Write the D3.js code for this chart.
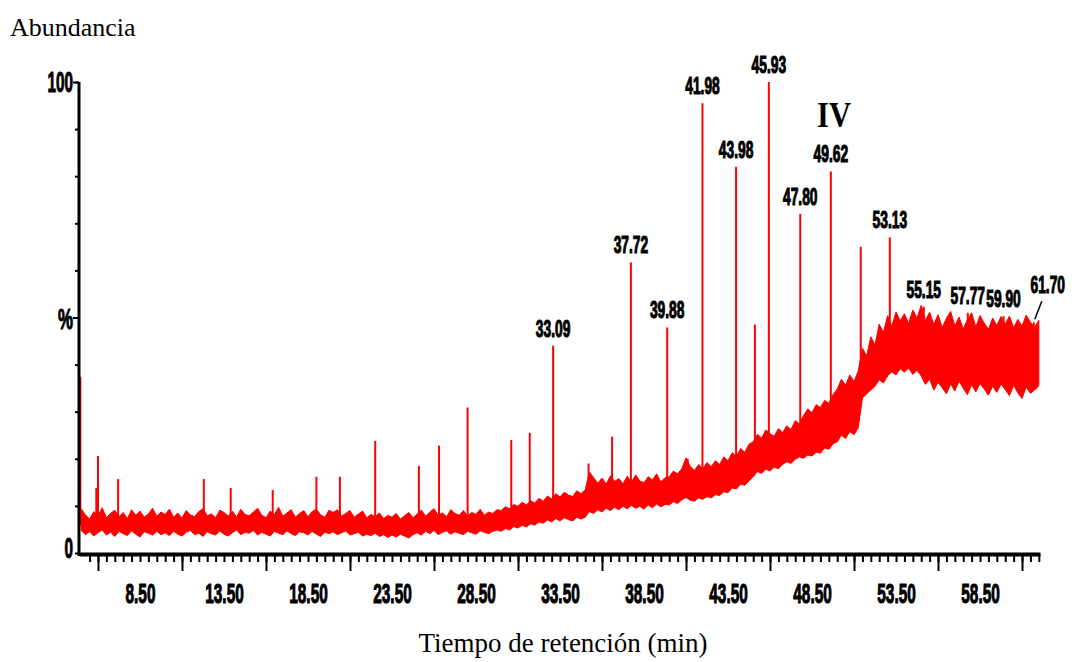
<!DOCTYPE html>
<meta charset="utf-8">
<style>
  body { margin: 0; background: #fff; }
  .num { font-family: "Liberation Sans", Arial, sans-serif; font-weight: bold; fill: #000; stroke: #000; stroke-width: 1.1px; }
  .serif { font-family: "Liberation Serif", "Times New Roman", serif; fill: #000; }
  .axis path, .axis line { stroke: #000; }
</style>
<svg width="1072" height="662"></svg>
<script src="https://cdnjs.cloudflare.com/ajax/libs/d3/7.8.5/d3.min.js"></script>
<script>

// noisy baseline envelope, % abundance, one reading every 0.25 min starting at 5.0 min
var traceStart = 5.0, traceStep = 0.25;
var baseHi = [
  9.4, 8.1, 7.2, 8.8, 7.9, 9.6, 7.5, 8.4, 9.1, 7.7, 8.6, 7.3, 9.2, 8.0, 8.9, 7.6, 8.3, 9.5, 7.8, 8.7,
  8.2, 9.3, 7.6, 8.5, 7.4, 9.0, 8.1, 7.7, 8.8, 9.4, 7.9, 8.3, 7.5, 9.1, 8.6, 7.8, 8.9, 7.6, 9.3, 8.2,
  7.9, 8.7, 9.5, 8.0, 7.5, 8.9, 8.2, 9.7, 7.8, 8.5, 9.2, 7.6, 8.4, 9.0, 7.7, 8.8, 9.3, 8.1, 7.6, 9.1,
  8.6, 9.2, 7.8, 8.4, 9.0, 7.6, 8.3, 8.9, 7.5, 8.2, 7.7, 8.5, 7.3, 8.0, 7.6, 8.4, 7.2, 7.9, 8.6, 7.5,
  8.3, 9.1, 7.8, 8.7, 9.4, 8.0, 8.5, 7.7, 9.2, 8.4, 8.0, 9.0, 7.9, 8.6, 8.2, 9.3, 8.0, 8.7, 8.4, 9.2,
  9.0, 9.8, 9.4, 10.3, 9.9, 10.8, 10.2, 11.1, 10.6, 11.6, 11.0, 12.1, 11.5, 12.6, 11.9, 12.9, 12.3, 12.0, 13.2, 12.6,
  13.4, 17.2, 16.0, 14.8, 15.9, 14.6, 16.4, 15.2, 15.8, 14.7, 16.3, 15.0, 16.6, 15.3, 14.9, 16.2, 15.5, 16.8, 15.1, 16.0,
  16.2, 17.4, 16.8, 17.9, 20.2, 18.4, 17.5, 18.8, 17.9, 19.2, 18.3, 19.6, 18.8, 20.4, 19.6, 21.3, 20.5, 22.2, 21.4, 23.1,
  23.6, 25.2, 24.4, 26.1, 25.3, 24.8, 26.4, 25.6, 27.0, 26.2, 28.1, 27.4, 29.2, 30.6, 29.8, 31.5, 30.9, 32.4, 31.8, 33.6,
  34.8, 36.9, 35.6, 37.8, 36.4, 38.6, 43.5, 41.8, 45.9, 44.2, 48.6, 46.8, 50.4, 48.1, 51.2, 49.3, 50.8, 48.7, 51.6, 49.9,
  52.6, 49.4, 51.1, 48.5, 50.6, 47.9, 49.8, 51.3, 48.2, 50.1, 47.6, 49.5, 51.0, 48.0, 50.4, 48.8, 47.5, 49.9, 48.3, 50.2,
  48.6, 50.3, 47.8, 49.6, 48.2, 50.5, 49.0, 47.9, 49.4
];
var baseLo = [
  4.8, 3.9, 4.5, 3.6, 4.3, 4.9, 3.8, 4.4, 3.5, 4.6, 4.1, 3.7, 4.7, 4.0, 3.4, 4.5, 4.2, 3.8, 4.6, 3.9,
  4.3, 3.7, 4.6, 4.0, 3.6, 4.4, 4.8, 3.9, 4.2, 3.5, 4.5, 4.1, 3.8, 4.7, 4.0, 3.6, 4.3, 4.9, 3.9, 4.4,
  4.2, 4.8, 3.8, 4.4, 4.0, 3.6, 4.6, 4.2, 3.9, 4.7, 4.1, 3.7, 4.5, 4.3, 3.8, 4.6, 4.0, 3.5, 4.4, 4.1,
  4.5, 3.9, 4.3, 4.7, 3.8, 4.1, 4.4, 3.6, 4.0, 3.7, 4.2, 3.5, 3.9, 3.3, 3.8, 3.4, 4.0, 3.6, 3.2, 3.9,
  4.3, 3.8, 4.6, 4.1, 4.8, 3.9, 4.4, 4.7, 4.0, 4.5, 4.2, 3.9, 4.6, 4.3, 4.0, 4.7, 4.4, 4.1, 4.6, 4.9,
  4.6, 5.2, 4.9, 5.6, 5.3, 5.9, 5.5, 6.2, 5.9, 6.6, 6.3, 7.0, 6.6, 7.3, 6.8, 7.5, 7.1, 6.8, 7.6, 7.2,
  7.6, 8.8, 8.4, 9.2, 8.7, 9.5, 9.0, 9.7, 9.2, 9.9, 9.4, 10.1, 9.5, 9.9, 9.3, 10.2, 9.6, 10.4, 9.8, 10.3,
  10.2, 10.9, 10.5, 11.3, 11.8, 11.2, 11.0, 11.7, 11.4, 12.0, 11.7, 12.4, 12.2, 13.0, 12.8, 13.8, 13.6, 14.6, 14.4, 15.3,
  16.2, 17.3, 16.9, 17.8, 17.4, 18.2, 17.9, 18.8, 19.4, 19.0, 19.9, 20.4, 20.1, 20.8, 20.6, 21.4, 21.2, 22.3, 22.0, 23.2,
  23.6, 25.0, 24.3, 25.8, 25.1, 26.6, 32.9, 33.8, 34.6, 35.4, 36.8, 36.1, 37.6, 38.5, 37.8, 39.1, 38.4, 39.3, 37.9, 38.8,
  37.6, 35.8, 36.9, 34.6, 36.2, 35.1, 33.8, 35.9, 34.4, 36.5, 35.0, 33.6, 35.7, 34.2, 36.0, 34.8, 33.5, 35.4, 34.1, 35.9,
  34.7, 33.4, 35.6, 34.0, 32.8, 35.2, 33.9, 34.6, 35.5
];

// labelled peaks (retention time, % abundance)
var peakTimes   = [33.09, 37.72, 39.88, 41.98, 43.98, 45.93, 47.80, 49.62, 53.13, 55.15, 57.77, 59.90, 61.70];
var peakHeights = [44.0, 61.7, 47.9, 95.5, 82.0, 100, 72.0, 81.0, 67.0, 52.3, 51.0, 50.3, 49.0];

// smaller spikes without a label
var spikeTimes   = [4.95, 5.9, 6.0, 7.2, 12.3, 13.9, 16.4, 19.0, 20.4, 22.5, 25.1, 26.3, 28.0, 30.6, 31.7, 35.2, 36.6, 41.1, 45.1, 51.4];
var spikeHeights = [37.4, 13.8, 20.6, 15.7, 15.7, 13.8, 13.4, 16.2, 16.2, 23.8, 18.5, 22.8, 30.9, 24.0, 25.5, 19.0, 24.7, 20.0, 48.5, 65.0];

// axis ticks
var xMinorTicks = d3.range(11, 125).map(function(k) { return k / 2; });   // 5.5 .. 62.0
var xMajorTicks = [6, 11, 16, 21, 26, 31, 36, 41, 46, 51, 56, 61];
var xLabelTicks = [8.5, 13.5, 18.5, 23.5, 28.5, 33.5, 38.5, 43.5, 48.5, 53.5, 58.5];
var yTicks = [0, 10, 20, 30, 40, 50, 60, 70, 80, 90, 100];
var yLabels = [[0, "0"], [50, "%"], [100, "100"]];


var svg = d3.select("svg");

var x = d3.scaleLinear().domain([4.87, 62.07]).range([79, 1040]);
var y = d3.scaleLinear().domain([0, 100]).range([553, 82]);

function loAt(t) {
    var f = (t - traceStart) / traceStep;
    var i = Math.max(0, Math.min(baseLo.length - 2, Math.floor(f)));
    var r = Math.max(0, Math.min(1, f - i));
    return baseLo[i] * (1 - r) + baseLo[i + 1] * r;
}

// trace
var idx = d3.range(baseHi.length);
var area = d3.area()
    .x(function(i) { return x(traceStart + i * traceStep); })
    .y0(function(i) { return y(baseLo[i]); })
    .y1(function(i) { return y(baseHi[i]); });

svg.append("path")
    .datum(idx)
    .attr("d", area)
    .attr("fill", "#ff0000")
    .attr("stroke", "#ff0000")
    .attr("stroke-width", 1)
    .attr("stroke-linejoin", "miter");

var spikes = spikeTimes.map(function(t, i) { return {t: t, h: spikeHeights[i]}; })
    .concat(peakTimes.map(function(t, i) { return {t: t, h: peakHeights[i]}; }));

svg.append("g").selectAll("line")
    .data(spikes)
    .enter().append("line")
    .attr("x1", function(d) { return x(d.t); })
    .attr("x2", function(d) { return x(d.t); })
    .attr("y1", function(d) { return y(loAt(d.t) + 1); })
    .attr("y2", function(d) { return y(d.h); })
    .attr("stroke", "#ff0000")
    .attr("stroke-width", 2);

// peak labels
var labelDx = {"61.70": 14};
var labelDy = {"61.70": -20};
var peaks = peakTimes.map(function(t, i) { return {t: t, h: peakHeights[i], s: t.toFixed(2)}; });

svg.append("g").selectAll("text")
    .data(peaks)
    .enter().append("text")
    .attr("class", "num")
    .attr("text-anchor", "middle")
    .attr("font-size", 23)
    .attr("transform", function(d) {
        var px = x(d.t) + (labelDx[d.s] || 0), py = y(d.h) - 9 + (labelDy[d.s] || 0);
        return "translate(" + px + "," + py + ") scale(0.6,1)";
    })
    .text(function(d) { return d.s; });

// leader for the last label
var last = peaks[peaks.length - 1];
svg.append("line")
    .attr("x1", x(last.t) + 1).attr("y1", y(last.h) - 3)
    .attr("x2", x(last.t) + 8).attr("y2", y(last.h) - 21)
    .attr("stroke", "#000").attr("stroke-width", 1.5);

// x axis
var gx = svg.append("g").attr("class", "axis").attr("transform", "translate(0,554)");
gx.call(d3.axisBottom(x).tickValues(xMinorTicks).tickSize(8).tickSizeOuter(0).tickFormat(""));
gx.select(".domain").attr("stroke-width", 4);
gx.selectAll(".tick line").attr("stroke-width", 2);

var gxMajor = svg.append("g").attr("class", "axis").attr("transform", "translate(0,554)");
gxMajor.call(d3.axisBottom(x).tickValues(xMajorTicks).tickSize(17).tickSizeOuter(0).tickFormat(""));
gxMajor.select(".domain").remove();
gxMajor.selectAll(".tick line").attr("stroke-width", 2);

var gxLab = svg.append("g").attr("transform", "translate(0,554)");
gxLab.call(d3.axisBottom(x).tickValues(xLabelTicks).tickSize(0).tickSizeOuter(0)
    .tickFormat(function(d) { return d.toFixed(2); }));
gxLab.select(".domain").remove();
gxLab.selectAll(".tick text")
    .attr("class", "num")
    .attr("font-size", 27)
    .attr("y", 0)
    .attr("dy", 0)
    .attr("transform", "translate(0,49) scale(0.57,1)");

// y axis
var gy = svg.append("g").attr("class", "axis").attr("transform", "translate(79,0)");
gy.call(d3.axisLeft(y).tickValues(yTicks).tickSize(4).tickSizeOuter(0).tickFormat(""));
gy.select(".domain").attr("stroke-width", 3).attr("d", "M0," + y(100) + "V556");
gy.selectAll(".tick line").attr("stroke-width", 2);

var gyMajor = svg.append("g").attr("class", "axis").attr("transform", "translate(79,0)");
gyMajor.call(d3.axisLeft(y).tickValues([50, 100]).tickSize(6).tickSizeOuter(0).tickFormat(""));
gyMajor.select(".domain").remove();
gyMajor.selectAll(".tick line").attr("stroke-width", 2);

var yDy = {"0": 5, "%": 11, "100": 10};
svg.append("g").selectAll("text")
    .data(yLabels)
    .enter().append("text")
    .attr("class", "num")
    .attr("text-anchor", "end")
    .attr("font-size", 30)
    .attr("transform", function(d) {
        return "translate(73," + (y(d[0]) + yDy[d[1]]) + ") scale(" + (d[1] === "%" ? 0.56 : 0.51) + ",1)";
    })
    .text(function(d) { return d[1]; });

// titles
svg.append("text")
    .attr("class", "serif")
    .attr("x", 10).attr("y", 36)
    .attr("font-size", 26)
    .text("Abundancia");

svg.append("text")
    .attr("class", "serif")
    .attr("x", 563).attr("y", 652)
    .attr("text-anchor", "middle")
    .attr("font-size", 27)
    .text("Tiempo de retención (min)");

svg.append("text")
    .attr("class", "serif")
    .attr("x", 834).attr("y", 127)
    .attr("text-anchor", "middle")
    .attr("font-size", 36)
    .attr("font-weight", "bold")
    .attr("transform", "translate(834,127) scale(0.85,1) translate(-834,-127)")
    .text("IV");

</script>
